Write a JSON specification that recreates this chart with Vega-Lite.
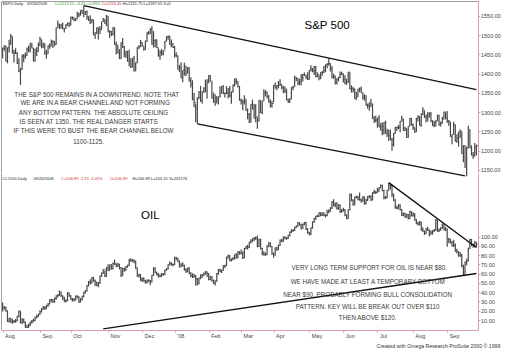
{
"$schema":"https://vega.github.io/schema/vega-lite/v6.json",
"background":"white",
"padding":{"left":1,"top":1,"right":0,"bottom":0},
"spacing":1,
"bounds":"flush",
"config":{"view":{"stroke":null},"font":"Liberation Sans","axis":{"grid":false,"labelFont":"Liberation Sans","labelFontSize":5.5,"labelColor":"#444444","domainColor":"#d9a0a8","tickColor":"#d9a0a8","tickSize":2,"labelPadding":0.5}},
"title":{"text":"Created with Omega Research ProSuite 2000 © 1999","orient":"bottom","anchor":"end","frame":"bounds","fontSize":5.2,"fontWeight":"normal","color":"#333333","offset":5},
"datasets":{
"spx":[
{"d":"2007-08-01","h":1468,"l":1440,"c":1465.81},{"d":"2007-08-02","h":1474,"l":1460,"c":1472.20},{"d":"2007-08-03","h":1473,"l":1432,"c":1433.06},{"d":"2007-08-06","h":1468,"l":1427,"c":1467.67},{"d":"2007-08-07","h":1488,"l":1455,"c":1476.71},{"d":"2007-08-08","h":1503,"l":1476,"c":1497.49},{"d":"2007-08-09","h":1497,"l":1453,"c":1453.09},{"d":"2007-08-10","h":1462,"l":1429,"c":1453.64},{"d":"2007-08-13","h":1466,"l":1451,"c":1452.92},{"d":"2007-08-14","h":1456,"l":1425,"c":1426.54},{"d":"2007-08-15","h":1440,"l":1404,"c":1406.70},{"d":"2007-08-16","h":1415,"l":1371,"c":1411.27},{"d":"2007-08-17","h":1450,"l":1411,"c":1445.94},{"d":"2007-08-20","h":1451,"l":1430,"c":1445.55},{"d":"2007-08-21","h":1455,"l":1439,"c":1447.12},{"d":"2007-08-22","h":1468,"l":1447,"c":1464.07},{"d":"2007-08-23","h":1473,"l":1456,"c":1462.50},{"d":"2007-08-24","h":1480,"l":1455,"c":1479.37},{"d":"2007-08-27","h":1479,"l":1466,"c":1466.79},{"d":"2007-08-28","h":1467,"l":1432,"c":1432.36},{"d":"2007-08-29","h":1465,"l":1432,"c":1463.76},{"d":"2007-08-30","h":1469,"l":1446,"c":1457.64},{"d":"2007-08-31","h":1481,"l":1458,"c":1473.99},
{"d":"2007-09-04","h":1496,"l":1472,"c":1489.42},{"d":"2007-09-05","h":1489,"l":1466,"c":1472.29},{"d":"2007-09-06","h":1481,"l":1467,"c":1478.55},{"d":"2007-09-07","h":1478,"l":1449,"c":1453.55},{"d":"2007-09-10","h":1462,"l":1439,"c":1451.70},{"d":"2007-09-11","h":1474,"l":1452,"c":1471.49},{"d":"2007-09-12","h":1479,"l":1465,"c":1471.56},{"d":"2007-09-13","h":1489,"l":1472,"c":1483.95},{"d":"2007-09-14","h":1486,"l":1467,"c":1484.25},{"d":"2007-09-17","h":1484,"l":1471,"c":1476.65},{"d":"2007-09-18","h":1520,"l":1476,"c":1519.78},{"d":"2007-09-19","h":1538,"l":1520,"c":1529.03},{"d":"2007-09-20","h":1529,"l":1516,"c":1518.75},{"d":"2007-09-21","h":1530,"l":1518,"c":1525.75},{"d":"2007-09-24","h":1533,"l":1515,"c":1517.73},{"d":"2007-09-25","h":1518,"l":1507,"c":1517.21},{"d":"2007-09-26","h":1529,"l":1517,"c":1525.42},{"d":"2007-09-27","h":1533,"l":1525,"c":1531.38},{"d":"2007-09-28","h":1533,"l":1521,"c":1526.75},
{"d":"2007-10-01","h":1548,"l":1526,"c":1547.04},{"d":"2007-10-02","h":1548,"l":1540,"c":1546.63},{"d":"2007-10-03","h":1546,"l":1536,"c":1539.59},{"d":"2007-10-04","h":1544,"l":1537,"c":1542.84},{"d":"2007-10-05","h":1561,"l":1543,"c":1557.59},{"d":"2007-10-08","h":1558,"l":1547,"c":1552.58},{"d":"2007-10-09","h":1565,"l":1551,"c":1565.15},{"d":"2007-10-10","h":1565,"l":1555,"c":1562.47},{"d":"2007-10-11","h":1576,"l":1547,"c":1554.41},{"d":"2007-10-12","h":1563,"l":1554,"c":1561.80},{"d":"2007-10-15","h":1564,"l":1540,"c":1548.71},{"d":"2007-10-16","h":1548,"l":1537,"c":1538.53},{"d":"2007-10-17","h":1552,"l":1529,"c":1541.24},{"d":"2007-10-18","h":1541,"l":1531,"c":1540.08},{"d":"2007-10-19","h":1540,"l":1500,"c":1500.63},{"d":"2007-10-22","h":1508,"l":1490,"c":1506.33},{"d":"2007-10-23","h":1520,"l":1503,"c":1519.59},{"d":"2007-10-24","h":1520,"l":1489,"c":1515.88},{"d":"2007-10-25","h":1524,"l":1503,"c":1514.40},{"d":"2007-10-26","h":1535,"l":1515,"c":1535.28},{"d":"2007-10-29","h":1545,"l":1535,"c":1540.98},{"d":"2007-10-30","h":1541,"l":1530,"c":1531.02},{"d":"2007-10-31","h":1553,"l":1524,"c":1549.38},
{"d":"2007-11-01","h":1549,"l":1508,"c":1508.44},{"d":"2007-11-02","h":1513,"l":1493,"c":1509.65},{"d":"2007-11-05","h":1511,"l":1498,"c":1502.17},{"d":"2007-11-06","h":1521,"l":1499,"c":1520.27},{"d":"2007-11-07","h":1520,"l":1475,"c":1475.62},{"d":"2007-11-08","h":1483,"l":1450,"c":1474.77},{"d":"2007-11-09","h":1474,"l":1453,"c":1453.70},{"d":"2007-11-12","h":1464,"l":1438,"c":1439.18},{"d":"2007-11-13","h":1481,"l":1439,"c":1481.05},{"d":"2007-11-14","h":1493,"l":1467,"c":1470.58},{"d":"2007-11-15","h":1472,"l":1443,"c":1451.15},{"d":"2007-11-16","h":1459,"l":1441,"c":1458.74},{"d":"2007-11-19","h":1459,"l":1431,"c":1433.27},{"d":"2007-11-20","h":1462,"l":1419,"c":1439.70},{"d":"2007-11-21","h":1439,"l":1415,"c":1416.77},{"d":"2007-11-23","h":1441,"l":1417,"c":1440.70},{"d":"2007-11-26","h":1446,"l":1406,"c":1407.22},{"d":"2007-11-27","h":1429,"l":1407,"c":1428.23},{"d":"2007-11-28","h":1469,"l":1428,"c":1469.02},{"d":"2007-11-29","h":1474,"l":1464,"c":1469.72},{"d":"2007-11-30","h":1488,"l":1470,"c":1481.14},
{"d":"2007-12-03","h":1482,"l":1470,"c":1472.42},{"d":"2007-12-04","h":1471,"l":1460,"c":1462.79},{"d":"2007-12-05","h":1486,"l":1463,"c":1485.01},{"d":"2007-12-06","h":1508,"l":1483,"c":1507.34},{"d":"2007-12-07","h":1511,"l":1501,"c":1504.66},{"d":"2007-12-10","h":1518,"l":1504,"c":1515.96},{"d":"2007-12-11","h":1523,"l":1475,"c":1477.65},{"d":"2007-12-12","h":1511,"l":1468,"c":1486.59},{"d":"2007-12-13","h":1489,"l":1469,"c":1488.41},{"d":"2007-12-14","h":1488,"l":1467,"c":1467.95},{"d":"2007-12-17","h":1467,"l":1445,"c":1445.90},{"d":"2007-12-18","h":1461,"l":1436,"c":1454.98},{"d":"2007-12-19","h":1464,"l":1447,"c":1453.00},{"d":"2007-12-20","h":1461,"l":1448,"c":1460.12},{"d":"2007-12-21","h":1485,"l":1463,"c":1484.46},{"d":"2007-12-24","h":1497,"l":1484,"c":1496.45},{"d":"2007-12-26","h":1499,"l":1488,"c":1497.66},{"d":"2007-12-27","h":1498,"l":1475,"c":1476.27},{"d":"2007-12-28","h":1489,"l":1469,"c":1478.49},{"d":"2007-12-31","h":1479,"l":1467,"c":1468.36},
{"d":"2008-01-02","h":1472,"l":1442,"c":1447.16},{"d":"2008-01-03","h":1456,"l":1443,"c":1447.16},{"d":"2008-01-04","h":1447,"l":1411,"c":1411.63},{"d":"2008-01-07","h":1423,"l":1404,"c":1416.18},{"d":"2008-01-08","h":1430,"l":1388,"c":1390.19},{"d":"2008-01-09","h":1409,"l":1378,"c":1409.13},{"d":"2008-01-10","h":1429,"l":1395,"c":1420.33},{"d":"2008-01-11","h":1420,"l":1394,"c":1401.02},{"d":"2008-01-14","h":1417,"l":1402,"c":1416.25},{"d":"2008-01-15","h":1416,"l":1380,"c":1380.95},{"d":"2008-01-16","h":1391,"l":1364,"c":1373.20},{"d":"2008-01-17","h":1383,"l":1331,"c":1333.25},{"d":"2008-01-18","h":1350,"l":1313,"c":1325.19},{"d":"2008-01-22","h":1322,"l":1274,"c":1310.50},{"d":"2008-01-23","h":1339,"l":1270,"c":1338.60},{"d":"2008-01-24","h":1355,"l":1334,"c":1352.07},{"d":"2008-01-25","h":1368,"l":1327,"c":1330.61},{"d":"2008-01-28","h":1354,"l":1322,"c":1353.96},{"d":"2008-01-29","h":1365,"l":1350,"c":1362.30},{"d":"2008-01-30","h":1385,"l":1352,"c":1355.81},{"d":"2008-01-31","h":1386,"l":1335,"c":1378.55},
{"d":"2008-02-01","h":1396,"l":1375,"c":1395.42},{"d":"2008-02-04","h":1396,"l":1380,"c":1380.82},{"d":"2008-02-05","h":1380,"l":1336,"c":1336.64},{"d":"2008-02-06","h":1351,"l":1325,"c":1326.45},{"d":"2008-02-07","h":1347,"l":1317,"c":1336.91},{"d":"2008-02-08","h":1342,"l":1323,"c":1331.29},{"d":"2008-02-11","h":1341,"l":1320,"c":1339.13},{"d":"2008-02-12","h":1367,"l":1339,"c":1348.86},{"d":"2008-02-13","h":1368,"l":1349,"c":1367.21},{"d":"2008-02-14","h":1370,"l":1347,"c":1348.86},{"d":"2008-02-15","h":1351,"l":1338,"c":1349.99},{"d":"2008-02-19","h":1368,"l":1347,"c":1348.78},{"d":"2008-02-20","h":1363,"l":1336,"c":1360.03},{"d":"2008-02-21","h":1368,"l":1339,"c":1342.53},{"d":"2008-02-22","h":1354,"l":1322,"c":1353.11},{"d":"2008-02-25","h":1372,"l":1351,"c":1371.80},{"d":"2008-02-26","h":1388,"l":1367,"c":1381.29},{"d":"2008-02-27","h":1388,"l":1372,"c":1380.02},{"d":"2008-02-28","h":1380,"l":1364,"c":1367.68},{"d":"2008-02-29","h":1368,"l":1330,"c":1330.63},
{"d":"2008-03-03","h":1336,"l":1320,"c":1331.34},{"d":"2008-03-04","h":1332,"l":1305,"c":1326.75},{"d":"2008-03-05","h":1344,"l":1320,"c":1333.70},{"d":"2008-03-06","h":1333,"l":1304,"c":1304.34},{"d":"2008-03-07","h":1310,"l":1282,"c":1293.37},{"d":"2008-03-10","h":1298,"l":1272,"c":1273.37},{"d":"2008-03-11","h":1321,"l":1274,"c":1320.65},{"d":"2008-03-12","h":1333,"l":1307,"c":1308.77},{"d":"2008-03-13","h":1322,"l":1283,"c":1315.48},{"d":"2008-03-14","h":1321,"l":1274,"c":1288.14},{"d":"2008-03-17","h":1287,"l":1257,"c":1276.60},{"d":"2008-03-18","h":1331,"l":1277,"c":1330.74},{"d":"2008-03-19","h":1331,"l":1298,"c":1298.42},{"d":"2008-03-20","h":1330,"l":1295,"c":1329.51},{"d":"2008-03-24","h":1360,"l":1330,"c":1349.88},{"d":"2008-03-25","h":1357,"l":1341,"c":1352.99},{"d":"2008-03-26","h":1353,"l":1336,"c":1341.13},{"d":"2008-03-27","h":1345,"l":1325,"c":1325.76},{"d":"2008-03-28","h":1334,"l":1312,"c":1315.22},{"d":"2008-03-31","h":1329,"l":1312,"c":1322.70},
{"d":"2008-04-01","h":1370,"l":1326,"c":1370.18},{"d":"2008-04-02","h":1377,"l":1361,"c":1367.53},{"d":"2008-04-03","h":1370,"l":1357,"c":1369.31},{"d":"2008-04-04","h":1381,"l":1362,"c":1370.40},{"d":"2008-04-07","h":1386,"l":1369,"c":1372.54},{"d":"2008-04-08","h":1372,"l":1360,"c":1365.54},{"d":"2008-04-09","h":1368,"l":1349,"c":1354.49},{"d":"2008-04-10","h":1367,"l":1350,"c":1360.55},{"d":"2008-04-11","h":1360,"l":1331,"c":1332.83},{"d":"2008-04-14","h":1335,"l":1324,"c":1328.32},{"d":"2008-04-15","h":1337,"l":1324,"c":1334.43},{"d":"2008-04-16","h":1365,"l":1334,"c":1364.71},{"d":"2008-04-17","h":1369,"l":1357,"c":1365.56},{"d":"2008-04-18","h":1395,"l":1366,"c":1390.33},{"d":"2008-04-21","h":1391,"l":1381,"c":1388.17},{"d":"2008-04-22","h":1388,"l":1370,"c":1375.94},{"d":"2008-04-23","h":1387,"l":1370,"c":1379.93},{"d":"2008-04-24","h":1399,"l":1370,"c":1388.82},{"d":"2008-04-25","h":1399,"l":1380,"c":1397.84},{"d":"2008-04-28","h":1403,"l":1394,"c":1396.37},{"d":"2008-04-29","h":1397,"l":1386,"c":1390.94},{"d":"2008-04-30","h":1404,"l":1384,"c":1385.59},
{"d":"2008-05-01","h":1410,"l":1385,"c":1409.34},{"d":"2008-05-02","h":1422,"l":1406,"c":1413.90},{"d":"2008-05-05","h":1415,"l":1404,"c":1407.49},{"d":"2008-05-06","h":1421,"l":1397,"c":1418.26},{"d":"2008-05-07","h":1420,"l":1391,"c":1392.57},{"d":"2008-05-08","h":1404,"l":1391,"c":1397.68},{"d":"2008-05-09","h":1397,"l":1383,"c":1388.28},{"d":"2008-05-12","h":1404,"l":1386,"c":1403.58},{"d":"2008-05-13","h":1407,"l":1395,"c":1403.04},{"d":"2008-05-14","h":1420,"l":1402,"c":1408.66},{"d":"2008-05-15","h":1424,"l":1404,"c":1423.57},{"d":"2008-05-16","h":1427,"l":1414,"c":1425.35},{"d":"2008-05-19","h":1440,"l":1421,"c":1426.63},{"d":"2008-05-20","h":1427,"l":1406,"c":1413.40},{"d":"2008-05-21","h":1420,"l":1388,"c":1390.71},{"d":"2008-05-22","h":1400,"l":1387,"c":1394.35},{"d":"2008-05-23","h":1394,"l":1372,"c":1375.93},{"d":"2008-05-27","h":1388,"l":1373,"c":1385.35},{"d":"2008-05-28","h":1392,"l":1380,"c":1390.84},{"d":"2008-05-29","h":1406,"l":1388,"c":1398.26},{"d":"2008-05-30","h":1405,"l":1396,"c":1400.38},
{"d":"2008-06-02","h":1400,"l":1377,"c":1385.67},{"d":"2008-06-03","h":1396,"l":1372,"c":1377.65},{"d":"2008-06-04","h":1387,"l":1371,"c":1377.20},{"d":"2008-06-05","h":1405,"l":1377,"c":1404.05},{"d":"2008-06-06","h":1404,"l":1360,"c":1360.68},{"d":"2008-06-09","h":1370,"l":1351,"c":1361.76},{"d":"2008-06-10","h":1366,"l":1351,"c":1358.44},{"d":"2008-06-11","h":1362,"l":1335,"c":1335.49},{"d":"2008-06-12","h":1353,"l":1332,"c":1339.87},{"d":"2008-06-13","h":1361,"l":1340,"c":1360.03},{"d":"2008-06-16","h":1364,"l":1352,"c":1360.14},{"d":"2008-06-17","h":1367,"l":1350,"c":1350.93},{"d":"2008-06-18","h":1351,"l":1333,"c":1337.81},{"d":"2008-06-19","h":1347,"l":1330,"c":1342.83},{"d":"2008-06-20","h":1343,"l":1317,"c":1317.93},{"d":"2008-06-23","h":1323,"l":1309,"c":1318.00},{"d":"2008-06-24","h":1326,"l":1304,"c":1314.29},{"d":"2008-06-25","h":1335,"l":1314,"c":1321.97},{"d":"2008-06-26","h":1322,"l":1283,"c":1283.15},{"d":"2008-06-27","h":1290,"l":1272,"c":1278.38},{"d":"2008-06-30","h":1291,"l":1274,"c":1280.00},
{"d":"2008-07-01","h":1285,"l":1260,"c":1284.91},{"d":"2008-07-02","h":1292,"l":1261,"c":1261.52},{"d":"2008-07-03","h":1272,"l":1252,"c":1262.90},{"d":"2008-07-07","h":1274,"l":1240,"c":1252.31},{"d":"2008-07-08","h":1274,"l":1242,"c":1273.70},{"d":"2008-07-09","h":1278,"l":1244,"c":1244.69},{"d":"2008-07-10","h":1257,"l":1236,"c":1253.39},{"d":"2008-07-11","h":1254,"l":1225,"c":1239.49},{"d":"2008-07-14","h":1255,"l":1227,"c":1228.30},{"d":"2008-07-15","h":1234,"l":1200,"c":1214.91},{"d":"2008-07-16","h":1246,"l":1211,"c":1245.36},{"d":"2008-07-17","h":1262,"l":1245,"c":1260.32},{"d":"2008-07-18","h":1262,"l":1251,"c":1260.68},{"d":"2008-07-21","h":1267,"l":1256,"c":1260.00},{"d":"2008-07-22","h":1277,"l":1248,"c":1277.00},{"d":"2008-07-23","h":1291,"l":1276,"c":1282.19},{"d":"2008-07-24","h":1283,"l":1252,"c":1252.54},{"d":"2008-07-25","h":1263,"l":1251,"c":1257.76},{"d":"2008-07-28","h":1258,"l":1234,"c":1234.37},{"d":"2008-07-29","h":1264,"l":1234,"c":1263.20},{"d":"2008-07-30","h":1285,"l":1264,"c":1284.26},{"d":"2008-07-31","h":1285,"l":1265,"c":1267.38},
{"d":"2008-08-01","h":1271,"l":1254,"c":1260.31},{"d":"2008-08-04","h":1260,"l":1247,"c":1249.01},{"d":"2008-08-05","h":1285,"l":1249,"c":1284.88},{"d":"2008-08-06","h":1292,"l":1276,"c":1289.19},{"d":"2008-08-07","h":1289,"l":1266,"c":1266.07},{"d":"2008-08-08","h":1297,"l":1262,"c":1296.32},{"d":"2008-08-11","h":1313,"l":1292,"c":1305.32},{"d":"2008-08-12","h":1304,"l":1285,"c":1289.59},{"d":"2008-08-13","h":1294,"l":1274,"c":1285.83},{"d":"2008-08-14","h":1300,"l":1276,"c":1292.93},{"d":"2008-08-15","h":1300,"l":1286,"c":1298.20},{"d":"2008-08-18","h":1300,"l":1274,"c":1278.60},{"d":"2008-08-19","h":1279,"l":1264,"c":1266.69},{"d":"2008-08-20","h":1277,"l":1261,"c":1274.54},{"d":"2008-08-21","h":1279,"l":1263,"c":1277.72},{"d":"2008-08-22","h":1294,"l":1277,"c":1292.20},{"d":"2008-08-25","h":1292,"l":1265,"c":1266.84},{"d":"2008-08-26","h":1276,"l":1263,"c":1271.51},{"d":"2008-08-27","h":1288,"l":1270,"c":1281.66},{"d":"2008-08-28","h":1301,"l":1282,"c":1300.68},{"d":"2008-08-29","h":1300,"l":1282,"c":1282.83},
{"d":"2008-09-02","h":1303,"l":1272,"c":1277.58},{"d":"2008-09-03","h":1280,"l":1265,"c":1274.98},{"d":"2008-09-04","h":1275,"l":1236,"c":1236.83},{"d":"2008-09-05","h":1243,"l":1217,"c":1242.31},{"d":"2008-09-08","h":1275,"l":1242,"c":1267.79},{"d":"2008-09-09","h":1268,"l":1224,"c":1224.51},{"d":"2008-09-10","h":1243,"l":1221,"c":1232.04},{"d":"2008-09-11","h":1249,"l":1211,"c":1249.05},{"d":"2008-09-12","h":1255,"l":1233,"c":1251.70},{"d":"2008-09-15","h":1250,"l":1192,"c":1192.70},{"d":"2008-09-16","h":1214,"l":1170,"c":1213.60},{"d":"2008-09-17","h":1213,"l":1156,"c":1156.39},{"d":"2008-09-18","h":1211,"l":1134,"c":1206.51},{"d":"2008-09-19","h":1265,"l":1207,"c":1255.08},{"d":"2008-09-22","h":1255,"l":1207,"c":1207.09},{"d":"2008-09-23","h":1214,"l":1188,"c":1188.22},{"d":"2008-09-24","h":1197,"l":1179,"c":1185.87},{"d":"2008-09-25","h":1220,"l":1186,"c":1209.18},{"d":"2008-09-26","h":1216,"l":1188,"c":1213.27}
],
"oil":[
{"d":"2007-08-01","h":78.8,"l":75.2,"c":76.53},{"d":"2007-08-02","h":77.4,"l":75.9,"c":76.86},{"d":"2007-08-03","h":77.1,"l":75.1,"c":75.48},{"d":"2007-08-06","h":75.6,"l":71.2,"c":71.47},{"d":"2007-08-07","h":72.8,"l":71.0,"c":72.42},{"d":"2007-08-08","h":72.8,"l":70.9,"c":71.15},{"d":"2007-08-09","h":72.4,"l":70.6,"c":71.59},{"d":"2007-08-10","h":72.0,"l":70.8,"c":71.47},{"d":"2007-08-13","h":72.3,"l":70.9,"c":71.62},{"d":"2007-08-14","h":73.6,"l":71.5,"c":73.38},{"d":"2007-08-15","h":75.6,"l":73.0,"c":75.38},{"d":"2007-08-16","h":75.3,"l":70.7,"c":71.00},{"d":"2007-08-17","h":72.6,"l":70.5,"c":71.98},{"d":"2007-08-20","h":72.5,"l":70.8,"c":71.12},{"d":"2007-08-21","h":71.4,"l":69.1,"c":69.27},{"d":"2007-08-22","h":70.2,"l":69.0,"c":69.26},{"d":"2007-08-23","h":70.6,"l":69.1,"c":70.03},{"d":"2007-08-24","h":71.4,"l":69.7,"c":71.09},{"d":"2007-08-27","h":72.0,"l":70.6,"c":71.69},{"d":"2007-08-28","h":72.5,"l":71.1,"c":71.86},{"d":"2007-08-29","h":73.2,"l":71.6,"c":72.96},{"d":"2007-08-30","h":74.0,"l":72.5,"c":73.36},{"d":"2007-08-31","h":74.4,"l":73.1,"c":74.04},
{"d":"2007-09-04","h":75.7,"l":73.9,"c":75.08},{"d":"2007-09-05","h":76.6,"l":74.8,"c":76.30},{"d":"2007-09-06","h":77.4,"l":75.9,"c":76.70},{"d":"2007-09-07","h":77.3,"l":75.8,"c":76.70},{"d":"2007-09-10","h":77.9,"l":76.1,"c":77.49},{"d":"2007-09-11","h":78.6,"l":77.0,"c":78.23},{"d":"2007-09-12","h":80.2,"l":78.0,"c":79.91},{"d":"2007-09-13","h":80.4,"l":78.9,"c":80.09},{"d":"2007-09-14","h":80.2,"l":78.6,"c":79.10},{"d":"2007-09-17","h":80.9,"l":78.8,"c":80.57},{"d":"2007-09-18","h":81.9,"l":80.0,"c":81.51},{"d":"2007-09-19","h":82.4,"l":80.9,"c":81.93},{"d":"2007-09-20","h":83.9,"l":81.6,"c":83.32},{"d":"2007-09-21","h":83.4,"l":81.1,"c":81.62},{"d":"2007-09-24","h":81.9,"l":79.9,"c":80.95},{"d":"2007-09-25","h":81.2,"l":78.9,"c":79.53},{"d":"2007-09-26","h":80.2,"l":78.8,"c":79.59},{"d":"2007-09-27","h":83.2,"l":79.4,"c":82.88},{"d":"2007-09-28","h":83.0,"l":81.2,"c":81.66},
{"d":"2007-10-01","h":81.9,"l":79.9,"c":80.24},{"d":"2007-10-02","h":80.7,"l":79.2,"c":79.96},{"d":"2007-10-03","h":80.6,"l":79.2,"c":79.94},{"d":"2007-10-04","h":81.8,"l":79.7,"c":81.44},{"d":"2007-10-05","h":81.9,"l":80.5,"c":81.22},{"d":"2007-10-08","h":81.3,"l":78.6,"c":79.02},{"d":"2007-10-09","h":80.6,"l":78.9,"c":80.30},{"d":"2007-10-10","h":81.7,"l":79.7,"c":81.30},{"d":"2007-10-11","h":83.4,"l":81.0,"c":83.08},{"d":"2007-10-12","h":84.1,"l":82.6,"c":83.69},{"d":"2007-10-15","h":86.4,"l":83.6,"c":86.13},{"d":"2007-10-16","h":88.2,"l":85.7,"c":87.61},{"d":"2007-10-17","h":89.0,"l":86.6,"c":87.40},{"d":"2007-10-18","h":90.0,"l":87.0,"c":89.47},{"d":"2007-10-19","h":90.1,"l":87.8,"c":88.60},{"d":"2007-10-22","h":88.8,"l":85.9,"c":87.60},{"d":"2007-10-23","h":87.9,"l":85.8,"c":86.27},{"d":"2007-10-24","h":87.8,"l":85.4,"c":87.10},{"d":"2007-10-25","h":90.7,"l":86.9,"c":90.46},{"d":"2007-10-26","h":92.2,"l":90.1,"c":91.86},{"d":"2007-10-29","h":93.8,"l":91.6,"c":93.53},{"d":"2007-10-30","h":93.2,"l":90.0,"c":90.38},{"d":"2007-10-31","h":94.8,"l":90.2,"c":94.53},
{"d":"2007-11-01","h":96.2,"l":92.8,"c":93.49},{"d":"2007-11-02","h":96.1,"l":93.0,"c":95.93},{"d":"2007-11-05","h":96.2,"l":93.6,"c":93.98},{"d":"2007-11-06","h":97.1,"l":93.8,"c":96.70},{"d":"2007-11-07","h":98.6,"l":95.9,"c":96.37},{"d":"2007-11-08","h":96.8,"l":94.8,"c":95.46},{"d":"2007-11-09","h":96.9,"l":94.9,"c":96.32},{"d":"2007-11-12","h":96.4,"l":93.7,"c":94.62},{"d":"2007-11-13","h":94.8,"l":90.1,"c":90.62},{"d":"2007-11-14","h":94.5,"l":90.7,"c":94.09},{"d":"2007-11-15","h":94.6,"l":92.6,"c":93.43},{"d":"2007-11-16","h":95.4,"l":93.0,"c":95.10},{"d":"2007-11-19","h":96.0,"l":94.5,"c":95.74},{"d":"2007-11-20","h":99.0,"l":95.4,"c":98.03},{"d":"2007-11-21","h":99.3,"l":97.5,"c":98.18},{"d":"2007-11-23","h":98.8,"l":97.3,"c":98.18},{"d":"2007-11-26","h":98.8,"l":96.8,"c":97.70},{"d":"2007-11-27","h":98.0,"l":94.0,"c":94.42},{"d":"2007-11-28","h":94.5,"l":90.2,"c":90.62},{"d":"2007-11-29","h":91.6,"l":89.8,"c":91.01},{"d":"2007-11-30","h":91.5,"l":88.1,"c":88.71},
{"d":"2007-12-03","h":89.9,"l":87.7,"c":89.31},{"d":"2007-12-04","h":89.8,"l":87.9,"c":88.32},{"d":"2007-12-05","h":88.8,"l":86.9,"c":87.49},{"d":"2007-12-06","h":88.9,"l":87.0,"c":88.28},{"d":"2007-12-07","h":89.0,"l":87.6,"c":88.28},{"d":"2007-12-10","h":88.6,"l":86.2,"c":87.86},{"d":"2007-12-11","h":91.1,"l":87.6,"c":90.76},{"d":"2007-12-12","h":94.7,"l":90.5,"c":94.39},{"d":"2007-12-13","h":94.6,"l":91.8,"c":92.25},{"d":"2007-12-14","h":92.6,"l":90.7,"c":91.27},{"d":"2007-12-17","h":91.9,"l":89.8,"c":90.63},{"d":"2007-12-18","h":91.3,"l":89.8,"c":90.49},{"d":"2007-12-19","h":91.9,"l":90.2,"c":91.38},{"d":"2007-12-20","h":92.0,"l":90.6,"c":91.24},{"d":"2007-12-21","h":93.6,"l":91.0,"c":93.31},{"d":"2007-12-24","h":94.3,"l":93.0,"c":93.99},{"d":"2007-12-26","h":96.3,"l":93.7,"c":95.97},{"d":"2007-12-27","h":97.8,"l":95.8,"c":96.62},{"d":"2007-12-28","h":97.3,"l":95.5,"c":96.00},{"d":"2007-12-31","h":96.6,"l":95.3,"c":95.98},
{"d":"2008-01-02","h":100.1,"l":95.9,"c":99.62},{"d":"2008-01-03","h":100.1,"l":98.3,"c":99.18},{"d":"2008-01-04","h":99.6,"l":97.3,"c":97.91},{"d":"2008-01-07","h":98.1,"l":94.6,"c":95.09},{"d":"2008-01-08","h":96.8,"l":94.8,"c":96.33},{"d":"2008-01-09","h":97.2,"l":95.0,"c":95.67},{"d":"2008-01-10","h":96.0,"l":93.0,"c":93.67},{"d":"2008-01-11","h":94.2,"l":92.0,"c":92.69},{"d":"2008-01-14","h":94.6,"l":92.3,"c":94.20},{"d":"2008-01-15","h":94.7,"l":91.4,"c":91.90},{"d":"2008-01-16","h":92.3,"l":89.9,"c":90.84},{"d":"2008-01-17","h":91.8,"l":89.6,"c":90.13},{"d":"2008-01-18","h":91.6,"l":89.7,"c":90.57},{"d":"2008-01-22","h":90.9,"l":86.1,"c":89.21},{"d":"2008-01-23","h":89.6,"l":86.1,"c":86.99},{"d":"2008-01-24","h":89.8,"l":86.7,"c":89.41},{"d":"2008-01-25","h":91.3,"l":89.0,"c":90.71},{"d":"2008-01-28","h":91.5,"l":89.6,"c":90.99},{"d":"2008-01-29","h":92.2,"l":90.5,"c":91.64},{"d":"2008-01-30","h":92.9,"l":91.1,"c":92.33},{"d":"2008-01-31","h":92.8,"l":90.0,"c":91.75},
{"d":"2008-02-01","h":92.0,"l":88.5,"c":88.96},{"d":"2008-02-04","h":90.6,"l":88.5,"c":90.02},{"d":"2008-02-05","h":90.4,"l":87.9,"c":88.41},{"d":"2008-02-06","h":88.9,"l":86.8,"c":87.14},{"d":"2008-02-07","h":88.5,"l":86.1,"c":88.11},{"d":"2008-02-08","h":92.0,"l":87.9,"c":91.77},{"d":"2008-02-11","h":93.9,"l":91.1,"c":93.59},{"d":"2008-02-12","h":94.0,"l":92.3,"c":92.78},{"d":"2008-02-13","h":93.6,"l":91.9,"c":93.27},{"d":"2008-02-14","h":95.8,"l":93.0,"c":95.46},{"d":"2008-02-15","h":96.0,"l":94.4,"c":95.50},{"d":"2008-02-19","h":100.1,"l":95.4,"c":100.01},{"d":"2008-02-20","h":101.3,"l":99.0,"c":100.74},{"d":"2008-02-21","h":100.8,"l":97.8,"c":98.23},{"d":"2008-02-22","h":99.2,"l":97.6,"c":98.81},{"d":"2008-02-25","h":100.0,"l":98.3,"c":99.23},{"d":"2008-02-26","h":101.3,"l":98.6,"c":100.88},{"d":"2008-02-27","h":102.1,"l":99.0,"c":99.64},{"d":"2008-02-28","h":103.0,"l":99.3,"c":102.59},{"d":"2008-02-29","h":103.1,"l":101.1,"c":101.84},
{"d":"2008-03-03","h":103.9,"l":101.2,"c":102.45},{"d":"2008-03-04","h":102.9,"l":98.9,"c":99.52},{"d":"2008-03-05","h":104.8,"l":99.3,"c":104.52},{"d":"2008-03-06","h":106.0,"l":104.1,"c":105.47},{"d":"2008-03-07","h":106.5,"l":104.0,"c":105.15},{"d":"2008-03-10","h":108.2,"l":104.8,"c":107.90},{"d":"2008-03-11","h":109.7,"l":107.2,"c":108.75},{"d":"2008-03-12","h":110.2,"l":108.0,"c":109.92},{"d":"2008-03-13","h":111.0,"l":108.5,"c":110.33},{"d":"2008-03-14","h":111.3,"l":109.2,"c":110.21},{"d":"2008-03-17","h":111.8,"l":105.1,"c":105.68},{"d":"2008-03-18","h":109.9,"l":105.3,"c":109.42},{"d":"2008-03-19","h":110.0,"l":104.0,"c":104.48},{"d":"2008-03-20","h":104.9,"l":100.9,"c":101.84},{"d":"2008-03-24","h":103.0,"l":100.6,"c":101.22},{"d":"2008-03-25","h":102.4,"l":100.5,"c":101.22},{"d":"2008-03-26","h":106.2,"l":101.0,"c":105.90},{"d":"2008-03-27","h":108.0,"l":105.2,"c":107.58},{"d":"2008-03-28","h":107.8,"l":105.1,"c":105.62},{"d":"2008-03-31","h":105.9,"l":101.1,"c":101.58},
{"d":"2008-04-01","h":102.4,"l":99.6,"c":100.98},{"d":"2008-04-02","h":105.1,"l":100.7,"c":104.83},{"d":"2008-04-03","h":105.4,"l":103.3,"c":103.92},{"d":"2008-04-04","h":106.7,"l":103.6,"c":106.23},{"d":"2008-04-07","h":109.5,"l":106.0,"c":109.09},{"d":"2008-04-08","h":109.9,"l":107.9,"c":108.50},{"d":"2008-04-09","h":111.2,"l":108.1,"c":110.87},{"d":"2008-04-10","h":111.4,"l":109.5,"c":110.11},{"d":"2008-04-11","h":111.0,"l":109.4,"c":110.14},{"d":"2008-04-14","h":112.2,"l":109.8,"c":111.76},{"d":"2008-04-15","h":114.1,"l":111.4,"c":113.79},{"d":"2008-04-16","h":115.5,"l":113.3,"c":114.93},{"d":"2008-04-17","h":115.5,"l":113.9,"c":114.86},{"d":"2008-04-18","h":117.0,"l":114.4,"c":116.69},{"d":"2008-04-21","h":117.8,"l":116.2,"c":117.48},{"d":"2008-04-22","h":119.9,"l":117.1,"c":119.37},{"d":"2008-04-23","h":119.8,"l":117.7,"c":118.30},{"d":"2008-04-24","h":118.8,"l":115.4,"c":116.06},{"d":"2008-04-25","h":119.0,"l":115.7,"c":118.52},{"d":"2008-04-28","h":120.0,"l":118.0,"c":119.75},{"d":"2008-04-29","h":119.9,"l":115.1,"c":115.63},{"d":"2008-04-30","h":116.2,"l":112.9,"c":113.46},
{"d":"2008-05-01","h":114.0,"l":111.8,"c":112.52},{"d":"2008-05-02","h":116.6,"l":112.1,"c":116.32},{"d":"2008-05-05","h":120.3,"l":115.9,"c":119.97},{"d":"2008-05-06","h":122.7,"l":119.3,"c":121.84},{"d":"2008-05-07","h":123.9,"l":121.2,"c":123.53},{"d":"2008-05-08","h":124.6,"l":122.9,"c":123.69},{"d":"2008-05-09","h":126.3,"l":123.2,"c":125.96},{"d":"2008-05-12","h":126.2,"l":123.6,"c":124.23},{"d":"2008-05-13","h":126.2,"l":123.7,"c":125.80},{"d":"2008-05-14","h":126.0,"l":123.6,"c":124.12},{"d":"2008-05-15","h":125.0,"l":122.8,"c":124.12},{"d":"2008-05-16","h":127.8,"l":123.6,"c":126.29},{"d":"2008-05-19","h":128.0,"l":125.6,"c":127.05},{"d":"2008-05-20","h":129.6,"l":126.5,"c":129.07},{"d":"2008-05-21","h":133.8,"l":128.4,"c":133.17},{"d":"2008-05-22","h":135.1,"l":130.2,"c":130.81},{"d":"2008-05-23","h":132.8,"l":129.6,"c":132.19},{"d":"2008-05-27","h":133.0,"l":128.0,"c":128.85},{"d":"2008-05-28","h":131.7,"l":127.9,"c":131.03},{"d":"2008-05-29","h":131.3,"l":125.8,"c":126.62},{"d":"2008-05-30","h":128.4,"l":125.9,"c":127.35},
{"d":"2008-06-02","h":129.3,"l":126.7,"c":127.76},{"d":"2008-06-03","h":128.3,"l":123.6,"c":124.31},{"d":"2008-06-04","h":124.8,"l":121.6,"c":122.30},{"d":"2008-06-05","h":128.2,"l":122.0,"c":127.79},{"d":"2008-06-06","h":139.1,"l":127.5,"c":138.54},{"d":"2008-06-09","h":139.2,"l":133.6,"c":134.35},{"d":"2008-06-10","h":135.0,"l":130.6,"c":131.31},{"d":"2008-06-11","h":136.9,"l":130.9,"c":136.38},{"d":"2008-06-12","h":137.5,"l":135.6,"c":136.74},{"d":"2008-06-13","h":137.6,"l":134.3,"c":134.86},{"d":"2008-06-16","h":139.9,"l":134.1,"c":134.61},{"d":"2008-06-17","h":135.6,"l":132.7,"c":134.01},{"d":"2008-06-18","h":137.2,"l":133.4,"c":136.68},{"d":"2008-06-19","h":137.0,"l":131.2,"c":131.93},{"d":"2008-06-20","h":135.4,"l":131.6,"c":134.62},{"d":"2008-06-23","h":137.4,"l":133.9,"c":136.74},{"d":"2008-06-24","h":138.0,"l":135.7,"c":137.00},{"d":"2008-06-25","h":137.9,"l":133.8,"c":134.55},{"d":"2008-06-26","h":140.3,"l":134.4,"c":139.64},{"d":"2008-06-27","h":142.0,"l":139.1,"c":140.21},{"d":"2008-06-30","h":141.0,"l":138.9,"c":140.00},
{"d":"2008-07-01","h":143.3,"l":139.6,"c":140.97},{"d":"2008-07-02","h":144.0,"l":140.6,"c":143.57},{"d":"2008-07-03","h":145.9,"l":143.0,"c":145.29},{"d":"2008-07-07","h":145.6,"l":140.8,"c":141.37},{"d":"2008-07-08","h":141.9,"l":135.1,"c":136.04},{"d":"2008-07-09","h":137.4,"l":135.1,"c":136.05},{"d":"2008-07-10","h":142.0,"l":135.9,"c":141.65},{"d":"2008-07-11","h":147.3,"l":141.4,"c":145.08},{"d":"2008-07-14","h":146.7,"l":142.1,"c":145.18},{"d":"2008-07-15","h":145.5,"l":136.5,"c":138.74},{"d":"2008-07-16","h":139.0,"l":133.9,"c":134.60},{"d":"2008-07-17","h":135.1,"l":128.6,"c":129.29},{"d":"2008-07-18","h":130.5,"l":128.2,"c":128.88},{"d":"2008-07-21","h":131.8,"l":128.2,"c":131.04},{"d":"2008-07-22","h":131.4,"l":127.3,"c":127.95},{"d":"2008-07-23","h":128.3,"l":123.8,"c":124.44},{"d":"2008-07-24","h":126.0,"l":123.6,"c":125.49},{"d":"2008-07-25","h":125.9,"l":122.7,"c":123.26},{"d":"2008-07-28","h":125.3,"l":122.5,"c":124.73},{"d":"2008-07-29","h":125.0,"l":121.6,"c":122.19},{"d":"2008-07-30","h":127.2,"l":121.9,"c":126.77},{"d":"2008-07-31","h":127.0,"l":123.5,"c":124.08},
{"d":"2008-08-01","h":126.3,"l":123.3,"c":125.10},{"d":"2008-08-04","h":125.5,"l":120.8,"c":121.41},{"d":"2008-08-05","h":121.8,"l":118.5,"c":119.17},{"d":"2008-08-06","h":120.1,"l":117.8,"c":118.58},{"d":"2008-08-07","h":120.6,"l":117.8,"c":120.02},{"d":"2008-08-08","h":120.0,"l":114.6,"c":115.20},{"d":"2008-08-11","h":116.7,"l":113.9,"c":114.45},{"d":"2008-08-12","h":114.7,"l":112.2,"c":113.01},{"d":"2008-08-13","h":116.3,"l":112.8,"c":116.00},{"d":"2008-08-14","h":117.0,"l":114.4,"c":115.01},{"d":"2008-08-15","h":115.4,"l":111.3,"c":113.77},{"d":"2008-08-18","h":114.8,"l":112.3,"c":112.87},{"d":"2008-08-19","h":115.0,"l":112.4,"c":114.53},{"d":"2008-08-20","h":115.6,"l":113.9,"c":114.98},{"d":"2008-08-21","h":121.8,"l":114.6,"c":121.18},{"d":"2008-08-22","h":121.5,"l":114.0,"c":114.59},{"d":"2008-08-25","h":116.0,"l":113.8,"c":115.24},{"d":"2008-08-26","h":116.8,"l":114.6,"c":116.27},{"d":"2008-08-27","h":119.0,"l":115.8,"c":118.15},{"d":"2008-08-28","h":118.6,"l":114.7,"c":115.59},{"d":"2008-08-29","h":117.0,"l":114.4,"c":115.46},
{"d":"2008-09-02","h":116.0,"l":105.5,"c":109.71},{"d":"2008-09-03","h":110.5,"l":107.4,"c":109.35},{"d":"2008-09-04","h":110.0,"l":107.3,"c":107.89},{"d":"2008-09-05","h":108.7,"l":105.4,"c":106.23},{"d":"2008-09-08","h":109.4,"l":105.3,"c":106.34},{"d":"2008-09-09","h":107.2,"l":102.7,"c":103.26},{"d":"2008-09-10","h":104.3,"l":101.8,"c":102.58},{"d":"2008-09-11","h":103.0,"l":100.1,"c":100.87},{"d":"2008-09-12","h":102.6,"l":99.9,"c":101.18},{"d":"2008-09-15","h":101.5,"l":94.6,"c":95.71},{"d":"2008-09-16","h":96.0,"l":90.5,"c":91.15},{"d":"2008-09-17","h":97.6,"l":91.2,"c":97.16},{"d":"2008-09-18","h":99.0,"l":95.7,"c":97.88},{"d":"2008-09-19","h":104.9,"l":97.6,"c":104.55},{"d":"2008-09-22","h":110.0,"l":104.3,"c":109.37},{"d":"2008-09-23","h":109.9,"l":105.8,"c":106.61},{"d":"2008-09-24","h":107.3,"l":104.9,"c":105.73},{"d":"2008-09-25","h":108.6,"l":105.2,"c":108.02},{"d":"2008-09-26","h":107.9,"l":105.2,"c":106.89}
],
"spxLines":[{"id":"ceiling","d":"2007-10-11","v":1577},{"id":"ceiling","d":"2008-09-26","v":1359},{"id":"floor","d":"2008-01-23","v":1270},{"id":"floor","d":"2008-09-17","v":1135}],
"oilLines":[{"id":"down","d":"2008-07-11","v":147.3},{"id":"down","d":"2008-09-26","v":105},{"id":"support","d":"2007-10-29","v":68.7},{"id":"support","d":"2008-09-26","v":91.7}],
"spxText":[
{"d":"2007-10-23","v":1344.8,"t":"THE S&P 500 REMAINS IN A DOWNTREND. NOTE THAT"},
{"d":"2007-10-22","v":1322.7,"t":"WE ARE IN A BEAR CHANNEL AND NOT FORMING"},
{"d":"2007-10-19","v":1299.3,"t":"ANY BOTTOM PATTERN. THE ABSOLUTE CEILING"},
{"d":"2007-10-16","v":1274.7,"t":"IS SEEN AT 1350. THE REAL DANGER STARTS"},
{"d":"2007-10-19","v":1251.3,"t":"IF THIS WERE TO BUST THE BEAR CHANNEL BELOW"},
{"d":"2007-10-16","v":1222.7,"t":"1100-1125."}
],
"oilText":[
{"d":"2008-06-24","v":66.2,"t":"VERY LONG TERM SUPPORT FOR OIL IS NEAR $80."},
{"d":"2008-06-23","v":51.2,"t":"WE HAVE MADE AT LEAST A TEMPORARY BOTTOM"},
{"d":"2008-06-23","v":37.0,"t":"NEAR $90. PROBABLY FORMING BULL CONSOLIDATION"},
{"d":"2008-06-23","v":24.0,"t":"PATTERN. KEY WILL BE BREAK OUT OVER $110"},
{"d":"2008-06-23","v":12.2,"t":"THEN ABOVE $120."}
],
"spxHead":[
{"d":"2007-08-01","v":1580,"t":"$SPX-Daily","k":"info"},
{"d":"2007-08-22","v":1580,"t":"09/26/2008","k":"info"},
{"d":"2007-09-17","v":1580,"t":"C=1213.25 +4.05 +0.33%","k":"up"},
{"d":"2007-10-26","v":1580,"t":"O=1204.45","k":"down"},
{"d":"2007-11-14","v":1580,"t":"H=1215.75 L=1187.55 V=0","k":"info"}
],
"oilHead":[
{"d":"2007-08-01","v":162.3,"t":"CL1500-Daily","k":"info"},
{"d":"2007-08-28","v":162.3,"t":"09/26/2008","k":"info"},
{"d":"2007-09-21","v":162.3,"t":"C=106.89 -1.13 -1.05%","k":"down"},
{"d":"2007-11-02","v":162.3,"t":"O=106.89","k":"down"},
{"d":"2007-11-23","v":162.3,"t":"H=106.89 L=105.15 V=201276","k":"info"}
]
},
"vconcat":[
{
"width":477,"height":171,
"encoding":{"x":{"field":"d","type":"ordinal","scale":{"type":"point","padding":1.55},"axis":{"orient":"top","labels":false,"ticks":false,"domainColor":"#a0a0a0","title":null}}},
"layer":[
{"data":{"name":"spx"},"mark":{"type":"rule","color":"#474747","strokeWidth":1.2},
 "encoding":{"y":{"field":"l","type":"quantitative","scale":{"domain":[1144.8,1588.9],"nice":false,"zero":false},"axis":{"orient":"right","values":[1150,1200,1250,1300,1350,1400,1450,1500,1550],"format":".2f","title":null}},"y2":{"field":"h"}}},
{"data":{"name":"spx"},"mark":{"type":"tick","color":"#474747","size":2,"thickness":1,"xOffset":1},
 "encoding":{"y":{"field":"c","type":"quantitative","scale":{"domain":[1144.8,1588.9],"nice":false,"zero":false},"axis":null}}},
{"data":{"name":"spxLines"},"mark":{"type":"line","color":"#111111","strokeWidth":1.3},
 "encoding":{"y":{"field":"v","type":"quantitative","scale":{"domain":[1144.8,1588.9],"nice":false,"zero":false},"axis":{"orient":"left","labels":false,"ticks":false,"domainColor":"#a0a0a0","title":null}},"detail":{"field":"id"}}},
{"data":{"name":"spxText"},"mark":{"type":"text","fontSize":6.3,"color":"#3a3a3a","align":"center","baseline":"middle"},
 "encoding":{"y":{"field":"v","type":"quantitative","scale":{"domain":[1144.8,1588.9],"nice":false,"zero":false},"axis":null},"text":{"field":"t"}}},
{"data":{"values":[{"d":"2008-05-16","v":1524,"t":"S&P 500"}]},"mark":{"type":"text","fontSize":11.5,"color":"#000000","align":"center","baseline":"middle"},
 "encoding":{"y":{"field":"v","type":"quantitative","scale":{"domain":[1144.8,1588.9],"nice":false,"zero":false},"axis":null},"text":{"field":"t"}}},
{"data":{"name":"spxHead"},"mark":{"type":"text","fontSize":4,"align":"left","baseline":"middle"},
 "encoding":{"y":{"field":"v","type":"quantitative","scale":{"domain":[1144.8,1588.9],"nice":false,"zero":false},"axis":null},"text":{"field":"t"},"color":{"field":"k","type":"nominal","scale":{"domain":["info","up","down"],"range":["#222222","#2f9a2f","#c83232"]},"legend":null}}}
],
"resolve":{"axis":{"y":"independent"}}
},
{
"width":477,"height":157,
"encoding":{"x":{"field":"d","type":"ordinal","scale":{"type":"point","padding":1.55},"axis":{"orient":"bottom","values":["2007-08-01","2007-09-04","2007-10-01","2007-11-01","2007-12-03","2008-01-02","2008-02-01","2008-03-03","2008-04-01","2008-05-01","2008-06-02","2008-07-01","2008-08-01","2008-09-02"],"labelExpr":"datum.value == '2008-01-02' ? \"'08\" : utcFormat(utc(toNumber(slice(datum.value,0,4)), toNumber(slice(datum.value,5,7))-1, 1), '%b')","labelAlign":"left","labelOffset":2,"labelBaseline":"top","labelPadding":1,"labelAngle":0,"tickSize":2,"title":null}}},
"layer":[
{"layer":[
 {"data":{"name":"oil"},"mark":{"type":"rule","color":"#474747","strokeWidth":1.2},
  "encoding":{"y":{"field":"l","type":"quantitative","scale":{"type":"log","domain":[68.3,154.9],"nice":false,"zero":false},"axis":{"orient":"left","labels":false,"ticks":false,"domainColor":"#a0a0a0","title":null}},"y2":{"field":"h"}}},
 {"data":{"name":"oil"},"mark":{"type":"tick","color":"#474747","size":2,"thickness":1,"xOffset":1},
  "encoding":{"y":{"field":"c","type":"quantitative","scale":{"type":"log","domain":[68.3,154.9],"nice":false,"zero":false},"axis":{"orient":"left","labels":false,"ticks":false,"domainColor":"#a0a0a0","title":null}}}},
 {"data":{"name":"oilLines"},"mark":{"type":"line","color":"#111111","strokeWidth":1.3},
  "encoding":{"y":{"field":"v","type":"quantitative","scale":{"type":"log","domain":[68.3,154.9],"nice":false,"zero":false},"axis":{"orient":"left","labels":false,"ticks":false,"domainColor":"#a0a0a0","title":null}},"detail":{"field":"id"}}}
]},
{"layer":[
 {"data":{"name":"oilText"},"mark":{"type":"text","fontSize":6.3,"color":"#3a3a3a","align":"center","baseline":"middle"},
  "encoding":{"y":{"field":"v","type":"quantitative","scale":{"domain":[-0.8,168.8],"nice":false,"zero":false},"axis":{"orient":"right","values":[10,20,30,40,50,60,70,80,90,100],"format":".2f","title":null}},"text":{"field":"t"}}},
 {"data":{"values":[{"d":"2007-12-10","v":122.3,"t":"OIL"}]},"mark":{"type":"text","fontSize":11.5,"color":"#000000","align":"center","baseline":"middle"},
  "encoding":{"y":{"field":"v","type":"quantitative","scale":{"domain":[-0.8,168.8],"nice":false,"zero":false},"axis":{"orient":"right","values":[10,20,30,40,50,60,70,80,90,100],"format":".2f","title":null}},"text":{"field":"t"}}},
 {"data":{"name":"oilHead"},"mark":{"type":"text","fontSize":4,"align":"left","baseline":"middle"},
  "encoding":{"y":{"field":"v","type":"quantitative","scale":{"domain":[-0.8,168.8],"nice":false,"zero":false},"axis":{"orient":"right","values":[10,20,30,40,50,60,70,80,90,100],"format":".2f","title":null}},"text":{"field":"t"},"color":{"field":"k","type":"nominal","scale":{"domain":["info","up","down"],"range":["#222222","#2f9a2f","#c83232"]},"legend":null}}}
]}
],
"resolve":{"scale":{"y":"independent"},"axis":{"y":"independent"}}
}
]
}
